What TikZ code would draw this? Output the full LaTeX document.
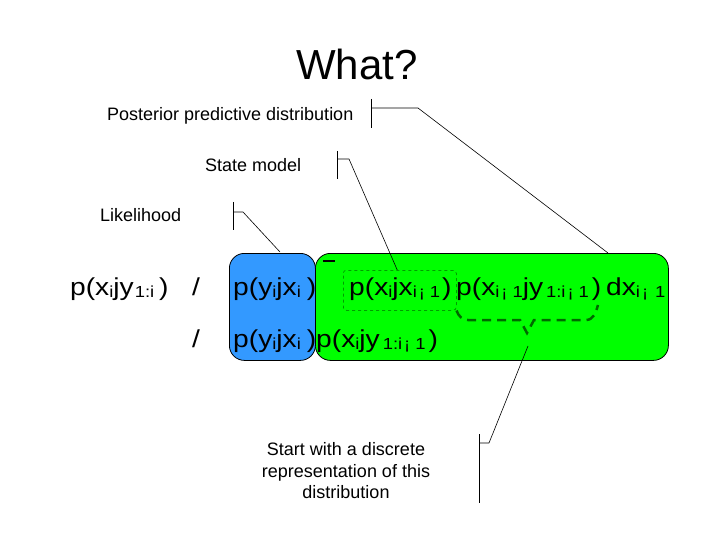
\documentclass[tikz,border=0pt]{standalone}
\usepackage{fontspec}
\setmainfont{Liberation Sans}
\newfontfamily\termfamily[FakeStretch=1.15]{Liberation Sans}

\definecolor{likeblue}{RGB}{51,153,255}
\definecolor{stategreen}{RGB}{0,255,0}
\definecolor{bracegreen}{RGB}{0,105,0}

\newcommand{\lo}[1]{{\fontsize{16}{16}\selectfont\raisebox{-2pt}{#1}}}
\newcommand{\termfont}{\termfamily\fontsize{24.5}{24.5}\selectfont}

\tikzset{
  callout/.style={font=\fontsize{18}{21.5}\selectfont, inner sep=0pt},
  termbox/.style={draw=black, line width=0.8pt, rounded corners=15pt, inner sep=0pt, anchor=north west},
  formula/.style={font=\termfont, inner sep=0pt, anchor=base west},
  pointer/.style={line width=0.6pt},
  bar/.style={line width=0.9pt}
}

\begin{document}
\begin{tikzpicture}[x=1pt,y=-1pt]
\useasboundingbox (0,0) rectangle (720,540);
\fill[white] (0,0) rectangle (720,540);

\node[font=\fontsize{42}{42}\selectfont, inner sep=0pt, anchor=base] (title) at (357,80) {What?};

% the two factors
\node[termbox, fill=stategreen, minimum width=353pt, minimum height=107pt] (statebox) at (315,253) {};
\node[termbox, fill=likeblue, minimum width=86pt, minimum height=107pt] (likebox) at (229,253) {};
\node[draw=bracegreen, dashed, line width=0.5pt, rounded corners=3pt, minimum width=113pt, minimum height=40pt, anchor=north west] (transbox) at (343,270) {};
\draw[line width=2pt] (323,261) -- (335,261);

% terms
\node[formula] (lhs) at (70,295) {p(x\lo{i}jy\hspace{1pt}\lo{1:i}\hspace{5pt})};
\node[formula] (prop1) at (192,295) {/};
\node[formula] (prop2) at (192,347) {/};
\node[formula] (like1) at (233,295) {p(y\lo{i}jx\lo{i}\hspace{6pt})};
\node[formula] (trans) at (349,295) {p(x\lo{i}jx\lo{i\hspace{2pt}¡\hspace{5pt}1}\hspace{2pt})};
\node[formula] (prior) at (456,295) {p(x\lo{i\hspace{2pt}¡\hspace{5pt}1}jy\hspace{3pt}\lo{1:i\hspace{2pt}¡\hspace{5pt}1}\hspace{3pt})};
\node[formula] (dx) at (606,295) {dx\lo{i\hspace{2pt}¡\hspace{7pt}1}};
\node[formula] (like2) at (233,347) {p(y\lo{i}jx\lo{i}\hspace{6pt})};
\node[formula] (state2) at (316,347) {p(x\lo{i}jy\hspace{3pt}\lo{1:i\hspace{2pt}¡\hspace{5pt}1}\hspace{3pt})};

% brace under the integral
\coordinate (bracetip) at (527,333);
\coordinate (braceend) at (598,305);
\draw[bracegreen, line width=2.5pt, dash pattern=on 9pt off 6pt] (transbox.south east) to[out=-70,in=180] (468,320) -- (520,320) -- (bracetip) -- (534,320) -- (586,320) to[out=0,in=-105] (braceend);

% callouts
\node[callout, anchor=base west] (posterior) at (107,121) {Posterior predictive distribution};
\node[callout, anchor=base west] (statemodel) at (205,172) {State model};
\node[callout, anchor=base west] (likelihood) at (100,222) {Likelihood};
\node[callout, align=center] (start) at (346,471) {Start with a discrete\\representation of this\\distribution};

\coordinate (postknee) at (418,108);
\coordinate (posttip) at (608,253);
\draw[bar] (371,99) -- (371,128);
\draw[pointer] (371,108) -- (postknee) -- (posttip);

\coordinate (stateknee) at (349,159);
\draw[bar] (337,151) -- (337,179);
\draw[pointer] (337,159) -- (stateknee) -- ([xshift=-2.5pt]transbox.north);

\coordinate (likeknee) at (243,212);
\draw[bar] (233,202) -- (233,230);
\draw[pointer] (233,212) -- (likeknee) -- (280,252);

\coordinate (startknee) at (489,443);
\draw[bar] (479,434) -- (479,503);
\draw[pointer] (479,443) -- (startknee) -- (528,346);
\end{tikzpicture}
\end{document}
